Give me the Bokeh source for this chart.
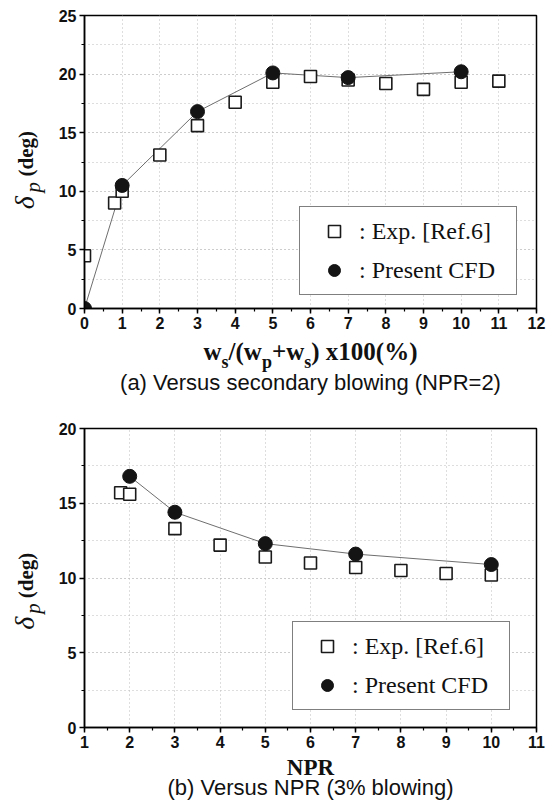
import math
from bokeh.plotting import figure
from bokeh.layouts import column, row
from bokeh.models import FixedTicker, Label, Legend, LegendItem, Range1d
from bokeh.embed import file_html
from bokeh.resources import INLINE

# ---------------- data ----------------
# (a) Versus secondary blowing (NPR=2)
a_exp_x = [0, 0.8, 1, 2, 3, 4, 5, 6, 7, 8, 9, 10, 11]
a_exp_y = [4.5, 9.0, 10.0, 13.1, 15.6, 17.6, 19.3, 19.8, 19.5, 19.2, 18.7, 19.3, 19.4]
a_cfd_x = [0, 1, 3, 5, 7, 10]
a_cfd_y = [0.0, 10.5, 16.8, 20.1, 19.7, 20.2]
a_xticks = [0, 1, 2, 3, 4, 5, 6, 7, 8, 9, 10, 11, 12]
a_yticks = [0, 5, 10, 15, 20, 25]

# (b) Versus NPR (3% blowing)
b_exp_x = [1.8, 2, 3, 4, 5, 6, 7, 8, 9, 10]
b_exp_y = [15.7, 15.6, 13.3, 12.2, 11.4, 11.0, 10.7, 10.5, 10.3, 10.2]
b_cfd_x = [2, 3, 5, 7, 10]
b_cfd_y = [16.8, 14.4, 12.3, 11.6, 10.9]
b_xticks = [1, 2, 3, 4, 5, 6, 7, 8, 9, 10, 11]
b_yticks = [0, 5, 10, 15, 20]

exp_label = ": Exp. [Ref.6]"
cfd_label = ": Present CFD"
a_caption = "(a) Versus secondary blowing (NPR=2)"
b_caption = "(b) Versus NPR (3% blowing)"
b_xlabel = "NPR"

SERIF = "Liberation Serif"
SANS = "Liberation Sans"
INK = "#111111"

# layout constants (pixels)
YLAB_W = 50          # strip holding the rotated y label
LEFT_B = 34          # chart border for tick labels
FRAME_W = 452
RIGHT_B = 20
TOTAL_W = YLAB_W + LEFT_B + FRAME_W + RIGHT_B
FRAME_CX = YLAB_W + LEFT_B + FRAME_W / 2
SHIFT = 0.3          # empirical baseline correction (fraction of font size)

# Times-Bold advance widths (em) for composing the sub-scripted axis label
TB = {"w": .722, "s": .389, "p": .556, "/": .278, "(": .333, ")": .333,
      "+": .570, " ": .25, "x": .5, "1": .5, "0": .5, "%": 1.0}


def tw(txt, size):
    return sum(TB.get(c, .5) for c in txt) * size


def text_fig(w, h):
    f = figure(title=None, width=w, height=h, x_range=Range1d(0, w), y_range=Range1d(0, h),
               x_axis_type=None, y_axis_type=None, min_border_left=0, min_border_right=0,
               min_border_top=0, min_border_bottom=0, output_backend="svg",
               toolbar_location=None, background_fill_color="white",
               border_fill_color="white")
    f.outline_line_color = None
    return f


def htext(f, x, y, text, size, font=SERIF, style="normal", align="left"):
    f.add_layout(Label(x=x, y=y + SHIFT * size, text=text, text_font=font,
                       text_font_style=style, text_font_size=f"{size}px",
                       text_align=align, text_baseline="alphabetic", text_color=INK))


def vtext(f, x, y, text, size, style):
    f.add_layout(Label(x=x - SHIFT * size, y=y, text=text, angle=math.pi / 2,
                       text_font=SERIF, text_font_style=style, text_font_size=f"{size}px",
                       text_align="left", text_baseline="alphabetic", text_color=INK))


def make_chart(xr, yr, xticks, yticks, frame_h, b_top, b_bottom):
    p = figure(title=None, frame_width=FRAME_W, frame_height=frame_h,
               min_border_left=LEFT_B, min_border_right=RIGHT_B,
               min_border_top=b_top, min_border_bottom=b_bottom,
               x_range=Range1d(*xr), y_range=Range1d(*yr),
               output_backend="svg", toolbar_location=None,
               background_fill_color="white", border_fill_color="white")
    xminor = [xticks[0] + 0.5 * i for i in range(2 * (len(xticks) - 1) + 1)]
    step = yticks[1] - yticks[0]
    yminor = [yticks[0] + step / 2 * i for i in range(2 * (len(yticks) - 1) + 1)]
    p.xaxis.ticker = FixedTicker(ticks=xticks, minor_ticks=xminor)
    p.yaxis.ticker = FixedTicker(ticks=yticks, minor_ticks=yminor)
    for ax in (p.xaxis, p.yaxis):
        ax.axis_line_color = "black"
        ax.axis_line_width = 1.5
        ax.major_tick_line_color = "black"
        ax.major_tick_line_width = 1.5
        ax.minor_tick_line_color = "black"
        ax.minor_tick_line_width = 1.2
        ax.major_tick_in = 0
        ax.major_tick_out = 5
        ax.minor_tick_in = 0
        ax.minor_tick_out = 3
        ax.major_label_text_font = SANS
        ax.major_label_text_font_style = "bold"
        ax.major_label_text_font_size = "16px"
        ax.major_label_text_color = INK
    p.xaxis.major_label_standoff = 3
    p.yaxis.major_label_standoff = 3
    p.outline_line_color = "black"
    p.outline_line_width = 1.5
    p.outline_line_alpha = 1
    for g in (p.xgrid, p.ygrid):
        g.grid_line_color = "#bdbdbd"
        g.grid_line_dash = "1 3"
    p.ygrid.minor_grid_line_color = "#bdbdbd"
    p.ygrid.minor_grid_line_dash = "1 3"
    return p


def add_series(p, ex, ey, cx, cy, loc):
    p.line(cx, cy, line_color="#6e6e6e", line_width=1)
    sq = p.scatter(ex, ey, marker="square", size=12, fill_color="white",
                   line_color="#1a1a1a", line_width=1.6)
    ci = p.scatter(cx, cy, marker="circle", size=14, fill_color="#141414",
                   line_color="#141414")
    leg = Legend(items=[LegendItem(label=exp_label, renderers=[sq]),
                        LegendItem(label=cfd_label, renderers=[ci])],
                 location=loc, border_line_color="black", border_line_width=1.5,
                 background_fill_color="white", background_fill_alpha=1,
                 label_text_font=SERIF, label_text_font_size="24px",
                 label_text_color=INK,
                 glyph_width=50, glyph_height=30, padding=9, spacing=9,
                 label_standoff=0, label_width=148, margin=0)
    p.add_layout(leg)


def ylabel_fig(fig_h, frame_top, frame_h):
    f = text_fig(YLAB_W, fig_h)
    c = fig_h - (frame_top + frame_h / 2)   # frame centre, measured from bottom
    vtext(f, 32, c - 60, "δ", 28, "italic")
    vtext(f, 39, c - 41, "p", 21, "italic")
    vtext(f, 32, c - 22.5, "(deg)", 21, "bold")
    return f


# ---------------- panel (a) ----------------
A_TOP, A_FH, A_BOT, A_LAB = 15, 293, 27, 63
a_xr, a_yr = (a_xticks[0], a_xticks[-1]), (a_yticks[0], a_yticks[-1])
pa = make_chart(a_xr, a_yr, a_xticks, a_yticks, A_FH, A_TOP, A_BOT)
add_series(pa, a_exp_x, a_exp_y, a_cfd_x, a_cfd_y, (215, 13))
ya = ylabel_fig(A_TOP + A_FH + A_BOT, A_TOP, A_FH)

xa = text_fig(TOTAL_W, A_LAB)
MAIN, SUB = 25, 18
pieces = [("w", False), ("s", True), ("/(w", False), ("p", True), ("+w", False),
          ("s", True), (") x100(%)", False)]
total = sum(tw(t, SUB if s else MAIN) for t, s in pieces)
cur = FRAME_CX - total / 2
for t, s in pieces:
    size = SUB if s else MAIN
    htext(xa, cur, (33 if s else 40) - (SHIFT * (MAIN - SUB) if s else 0), t, size,
          style="bold")
    cur += tw(t, size)
htext(xa, FRAME_CX, 9, a_caption, 22, font=SANS, align="center")

# ---------------- panel (b) ----------------
B_TOP, B_FH, B_BOT, B_LAB = 30, 299, 27, 50
b_xr, b_yr = (b_xticks[0], b_xticks[-1]), (b_yticks[0], b_yticks[-1])
pb = make_chart(b_xr, b_yr, b_xticks, b_yticks, B_FH, B_TOP, B_BOT)
add_series(pb, b_exp_x, b_exp_y, b_cfd_x, b_cfd_y, (208, 17))
yb = ylabel_fig(B_TOP + B_FH + B_BOT, B_TOP, B_FH)

xb = text_fig(TOTAL_W, B_LAB)
htext(xb, FRAME_CX, 30, b_xlabel, 23, style="bold", align="center")
htext(xb, FRAME_CX, 10, b_caption, 22, font=SANS, align="center")

layout = column(row(ya, pa, spacing=0), xa, row(yb, pb, spacing=0), xb, spacing=0)
open("out.html", "w").write(file_html(layout, INLINE))
